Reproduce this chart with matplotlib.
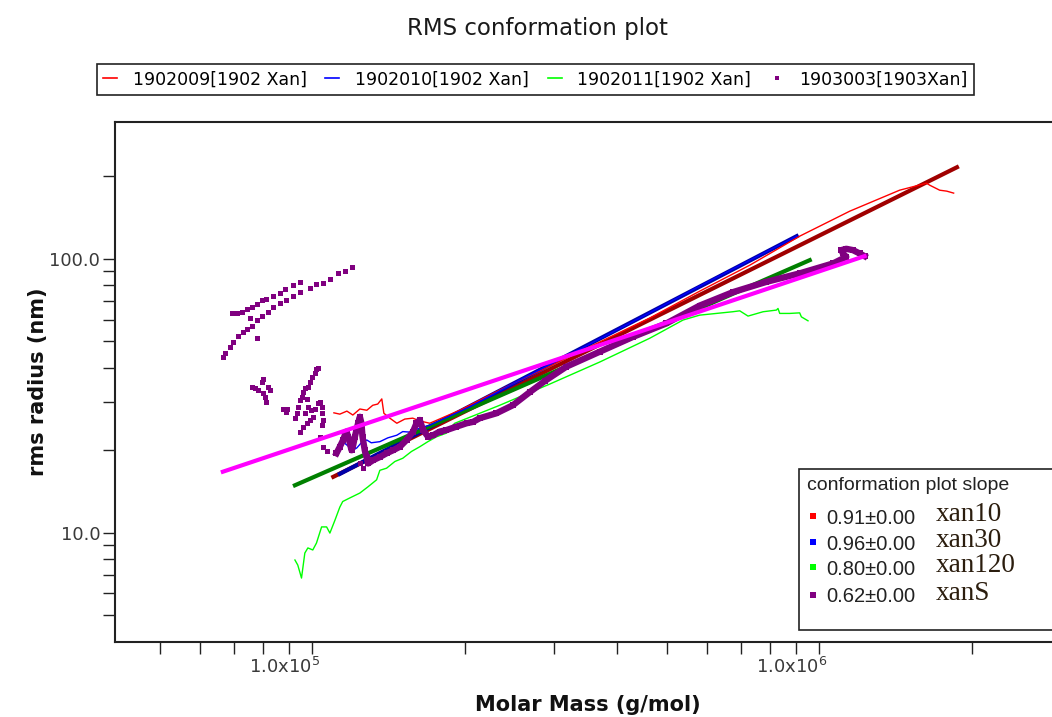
import matplotlib
matplotlib.use('Agg')
import matplotlib.pyplot as plt
from matplotlib.lines import Line2D
from matplotlib.patches import Rectangle
from matplotlib.ticker import FixedLocator, FixedFormatter, NullFormatter
from matplotlib.transforms import ScaledTranslation

# ---- data (molar mass in g/mol, rms radius in nm) ----
series_labels = ['1902009[1902 Xan]', '1902010[1902 Xan]', '1902011[1902 Xan]', '1903003[1903Xan]']
slope_texts = ['0.91\u00b10.00', '0.96\u00b10.00', '0.80\u00b10.00', '0.62\u00b10.00']
sample_names = ['xan10', 'xan30', 'xan120', 'xanS']

red_raw_M = [1.103e5, 1.133e5, 1.170e5, 1.202e5, 1.241e5, 1.281e5, 1.316e5, 1.346e5, 1.371e5,
             1.384e5, 1.422e5, 1.468e5, 1.522e5, 1.578e5, 1.629e5, 1.705e5, 1.954e5, 2.343e5,
             2.941e5, 3.690e5, 4.632e5, 5.811e5, 7.295e5, 9.152e5, 1.149e6, 1.441e6, 1.629e6,
             1.652e6, 1.729e6, 1.785e6, 1.842e6]
red_raw_R = [27.4, 27.1, 27.8, 26.9, 28.3, 28.0, 29.2, 29.5, 30.8, 27.3, 26.2, 25.1, 26.0, 26.2,
             25.6, 25.1, 28.0, 33.2, 40.6, 49.7, 60.8, 76.2, 94.8, 121.0, 149.3, 178.1, 188.9,
             185.8, 178.1, 176.7, 173.8]

blue_raw_M = [1.148e5, 1.170e5, 1.202e5, 1.224e5, 1.252e5, 1.281e5, 1.307e5, 1.359e5, 1.409e5,
              1.468e5, 1.508e5, 1.557e5, 1.629e5, 1.705e5, 2.045e5, 2.567e5, 3.371e5, 4.426e5,
              5.811e5, 7.633e5, 9.03e5]
blue_raw_R = [21.5, 20.9, 20.0, 20.4, 21.4, 21.8, 21.3, 21.5, 22.2, 22.7, 23.4, 23.3, 24.1, 24.7,
              28.8, 36.1, 46.8, 60.8, 79.5, 103.1, 121.0]

green_raw_M = [9.24e4, 9.36e4, 9.52e4, 9.665e4, 9.80e4, 1.002e5, 1.019e5, 1.043e5, 1.067e5,
               1.083e5, 1.108e5, 1.133e5, 1.148e5, 1.186e5, 1.241e5, 1.287e5, 1.339e5, 1.359e5,
               1.401e5, 1.455e5, 1.508e5, 1.569e5, 1.629e5, 1.690e5, 1.758e5, 1.839e5, 1.881e5,
               1.910e5, 2.343e5, 2.941e5, 3.690e5, 4.632e5, 5.389e5, 5.811e5, 6.270e5, 6.752e5,
               6.970e5, 7.238e5, 7.750e5, 8.234e5, 8.294e5, 8.359e5, 8.747e5, 9.152e5, 9.224e5,
               9.505e5]
green_raw_R = [7.95, 7.62, 6.83, 8.43, 8.80, 8.65, 9.17, 10.5, 10.5, 9.97, 11.1, 12.4, 13.0, 13.4,
               13.96, 14.7, 15.6, 16.9, 17.2, 18.2, 18.7, 19.8, 20.6, 21.5, 22.4, 23.1, 24.4, 25.1,
               29.2, 34.9, 42.0, 51.3, 59.8, 62.3, 63.2, 64.1, 64.6, 61.8, 64.1, 65.0, 65.9, 63.2,
               63.2, 63.5, 61.4, 59.4]

# scattered points of 1903003 (two arcs at low mass, then loose clusters)
purple_dots_M = [6.65e4, 6.72e4, 6.88e4, 6.97e4, 7.13e4, 7.29e4, 7.43e4, 7.59e4, 7.76e4, 7.94e4,
                 8.17e4, 8.36e4, 8.63e4, 8.89e4, 9.15e4, 9.45e4, 9.89e4, 1.019e5, 1.049e5,
                 1.083e5, 1.123e5, 1.159e5, 1.195e5,
                 6.93e4, 7.09e4, 7.25e4, 7.42e4, 7.59e4, 7.76e4, 7.94e4, 8.12e4, 8.36e4, 8.63e4,
                 8.83e4, 9.15e4, 9.45e4,
                 7.53e4, 7.76e4,
                 7.59e4, 7.70e4, 7.82e4, 7.94e4, 8.00e4, 7.98e4, 8.06e4, 8.12e4, 8.18e4, 8.24e4,
                 8.76e4, 8.87e4, 8.92e4, 9.24e4, 9.31e4, 9.38e4, 9.45e4, 9.52e4, 9.59e4, 9.66e4,
                 9.81e4, 9.89e4, 1.000e5, 1.011e5, 1.019e5, 1.027e5, 9.74e4, 9.81e4, 9.66e4,
                 9.96e4, 1.004e5, 9.45e4, 9.59e4, 9.74e4, 9.89e4, 1.011e5, 1.027e5, 1.035e5,
                 1.043e5, 1.047e5, 1.050e5, 1.043e5, 1.035e5, 1.050e5, 1.067e5,
                 1.241e5, 1.259e5]
purple_dots_R = [43.7, 45.3, 47.7, 49.8, 52.2, 54.2, 55.4, 56.8, 59.8, 61.8, 64.1, 66.8, 68.9,
                 70.7, 73.1, 75.8, 78.2, 80.7, 81.7, 84.3, 88.7, 90.4, 93.3,
                 63.2, 63.5, 64.1, 65.5, 66.6, 68.4, 70.7, 71.3, 73.1, 75.1, 77.5, 80.2, 82.4,
                 60.8, 51.2,
                 34.1, 33.9, 33.2, 35.6, 36.3, 32.3, 31.4, 30.1, 34.1, 33.2,
                 28.2, 27.6, 28.4, 26.2, 27.3, 28.8, 30.5, 31.4, 32.7, 33.7, 34.1, 35.6, 37.1,
                 38.2, 39.5, 40.1, 30.9, 28.8, 27.3, 28.0, 26.5, 23.4, 24.4, 25.1, 25.8, 28.4,
                 29.7, 30.1, 28.8, 27.3, 25.8, 24.7, 22.4, 20.6, 19.8,
                 17.9, 17.2]

# dense run of 1903003 points that reads as a thick band
purple_band_M = [1.116e5, 1.133e5, 1.150e5, 1.159e5, 1.168e5, 1.177e5, 1.186e5, 1.195e5, 1.204e5,
                 1.213e5, 1.222e5, 1.231e5, 1.241e5, 1.250e5, 1.256e5, 1.269e5, 1.279e5, 1.288e5,
                 1.318e5, 1.359e5, 1.401e5, 1.443e5, 1.488e5, 1.534e5, 1.580e5, 1.605e5, 1.629e5,
                 1.654e5, 1.692e5, 1.731e5, 1.784e5, 1.839e5, 1.925e5, 2.015e5, 2.076e5, 2.140e5,
                 2.308e5, 2.486e5, 2.685e5, 2.875e5, 3.172e5, 3.690e5, 4.293e5, 4.994e5, 5.811e5,
                 6.761e5, 7.867e5, 9.152e5, 1.065e6, 1.131e6, 1.114e6, 1.106e6, 1.131e6, 1.166e6,
                 1.202e6, 1.229e6]
purple_band_R = [19.5, 20.6, 21.8, 22.7, 23.4, 22.4, 21.2, 20.0, 20.9, 22.4, 23.7, 25.1, 26.5,
                 25.1, 22.4, 20.0, 18.9, 17.9, 18.4, 18.9, 19.5, 20.0, 20.6, 21.8, 23.4, 25.1,
                 25.8, 23.7, 22.4, 22.7, 23.4, 23.7, 24.4, 25.1, 25.4, 26.2, 27.3, 29.2, 32.6,
                 35.8, 40.4, 45.8, 51.9, 58.1, 67.5, 75.6, 82.4, 88.5, 96.2, 101.7, 104.6, 107.6,
                 108.8, 107.6, 104.6, 102.3]

# fitted conformation lines (end points)
red_fit_M, red_fit_R = [1.10e5, 1.87e6], [16.0, 216.0]
blue_fit_M, blue_fit_R = [1.133e5, 9.03e5], [16.4, 121.0]
green_fit_M, green_fit_R = [9.24e4, 9.58e5], [14.9, 98.9]
magenta_fit_M, magenta_fit_R = [6.66e4, 1.229e6], [16.7, 102.3]

x_major = [1e5, 1e6]
x_major_labels = [r'1.0x10$^{5}$', r'1.0x10$^{6}$']
x_minor = [5e4, 6e4, 7e4, 8e4, 9e4, 2e5, 3e5, 4e5, 5e5, 6e5, 7e5, 8e5, 9e5, 2e6]
y_major = [10, 100]
y_major_labels = ['10.0', '100.0']
y_minor = [5, 6, 7, 8, 9, 20, 30, 40, 50, 60, 70, 80, 90, 200]

# ---- figure ----
fig = plt.figure(figsize=(10.52, 7.17), dpi=100)
ax = fig.add_axes([115 / 1052, 75.3 / 717, 946 / 1052, 519.7 / 717])
ax.set_xscale('log')
ax.set_yscale('log')

ax.plot(red_fit_M, red_fit_R, color='#a00000', lw=3.0)
ax.plot(blue_fit_M, blue_fit_R, color='#0000a8', lw=3.0)
ax.plot(green_fit_M, green_fit_R, color='#008000', lw=3.0)

ax.plot(red_raw_M, red_raw_R, color='#ff0000', lw=1.0)
ax.plot(blue_raw_M, blue_raw_R, color='#0000ff', lw=1.0)
ax.plot(green_raw_M, green_raw_R, color='#00ff00', lw=1.0)

ax.plot(purple_band_M, purple_band_R, color='#800080', lw=4.6, marker='s', ms=4.8, mew=0)
ax.plot(purple_dots_M, purple_dots_R, ls='', marker='s', ms=3.6, mew=0, color='#800080')

ax.plot(magenta_fit_M, magenta_fit_R, color='#ff00ff', lw=3.0)

ax.set_xlim(4.08e4, 3.0e6)
ax.set_ylim(4, 316)

ax.xaxis.set_major_locator(FixedLocator(x_major))
ax.xaxis.set_major_formatter(FixedFormatter(x_major_labels))
ax.xaxis.set_minor_locator(FixedLocator(x_minor))
ax.xaxis.set_minor_formatter(NullFormatter())
ax.yaxis.set_major_locator(FixedLocator(y_major))
ax.yaxis.set_major_formatter(FixedFormatter(y_major_labels))
ax.yaxis.set_minor_locator(FixedLocator(y_minor))
ax.yaxis.set_minor_formatter(NullFormatter())

ax.tick_params(which='both', direction='out', length=8.6, width=1.0, color='#222222',
               labelsize=13, labelcolor='#3a3a3a', pad=2)
for lab in ax.get_xticklabels():
    lab.set_ha('right')
    lab.set_transform(lab.get_transform() + ScaledTranslation(0.08, 0, fig.dpi_scale_trans))
for sp in ax.spines.values():
    sp.set_linewidth(1.5)
    sp.set_color('#222222')

ax.set_xlabel('Molar Mass (g/mol)', fontsize=15, fontweight='bold', color='#111111')
ax.xaxis.set_label_coords(0.5, (641.7 - 705) / 519.7)
ax.xaxis.label.set_va('center')
ax.set_ylabel('rms radius (nm)', fontsize=15, fontweight='bold', color='#111111')
ax.yaxis.set_label_coords((38 - 115) / 946, 0.5)
ax.yaxis.label.set_va('center')

fig.text(537 / 1052, 1 - 28 / 717, 'RMS conformation plot', ha='center', va='center',
         fontsize=16.5, color='#1a1a1a')

# top legend
handles = [Line2D([], [], color='#ff0000', lw=1.2),
           Line2D([], [], color='#0000ff', lw=1.2),
           Line2D([], [], color='#00ff00', lw=1.2),
           Line2D([], [], color='#800080', ls='', marker='s', ms=2.5, mew=0)]
leg = fig.legend(handles, series_labels, loc='center', ncol=4, mode='expand',
                 bbox_to_anchor=(97 / 1052, 1 - 96 / 717, 877 / 1052, 33 / 717),
                 handlelength=0.8, handletextpad=0.9, borderaxespad=0,
                 borderpad=0.35, fancybox=False, framealpha=1, edgecolor='#222222',
                 prop={'family': ['Liberation Sans Narrow', 'DejaVu Sans'], 'size': 12.5})
leg.get_frame().set_linewidth(1.2)

# slope box inside the plot
box = Rectangle((0.7230, 0.0225), 0.29, 0.3098, transform=ax.transAxes, facecolor='white',
                edgecolor='#222222', lw=1.2, clip_on=False, zorder=10)
ax.add_patch(box)
ax.text(0.7315, 0.3015, 'conformation plot slope', transform=ax.transAxes, va='center',
        fontsize=14, family='Liberation Sans', color='#222222', zorder=11)
row_y = [0.2418, 0.1918, 0.1437, 0.0908]
slope_colors = ['#ff0000', '#0000ff', '#00ff00', '#800080']
for yy, c, s, n in zip(row_y, slope_colors, slope_texts, sample_names):
    ax.plot(0.7375, yy, 's', color=c, ms=4, mew=0, transform=ax.transAxes, zorder=11,
            clip_on=False)
    ax.text(0.7523, yy - 0.004, s, transform=ax.transAxes, va='center', fontsize=14.5,
            family='Liberation Sans', color='#222222', zorder=11)
    ax.text(0.8679, yy + 0.002, n, transform=ax.transAxes, va='center', fontsize=19.5,
            family='Liberation Serif', color='#2b1d0e', zorder=11)

fig.savefig('out.png', dpi=100)
